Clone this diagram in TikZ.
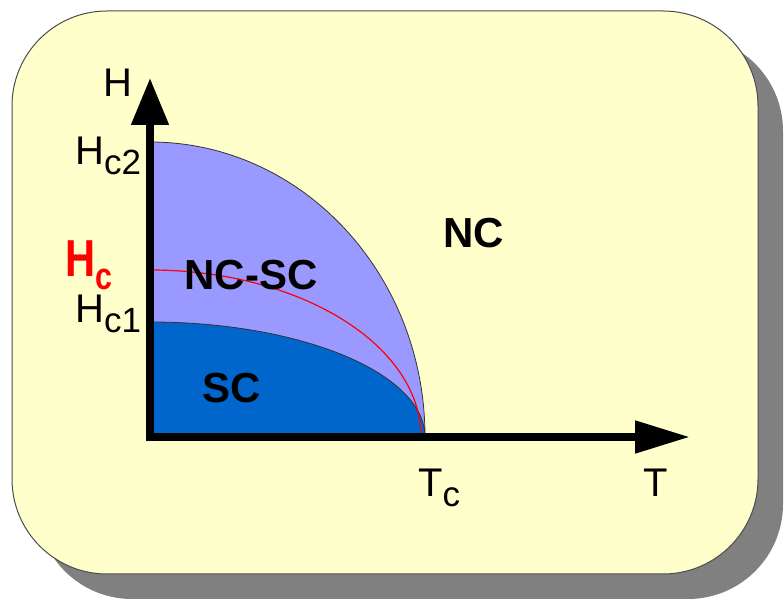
\documentclass[tikz,border=0pt]{standalone}
\usepackage{fontspec}
\setmainfont{Liberation Sans}
\usetikzlibrary{arrows.meta}
\definecolor{paper}{HTML}{FFFFCC}
\definecolor{shadowgray}{HTML}{808080}
\definecolor{ncsc}{HTML}{9999FF}
\definecolor{scblue}{HTML}{0066CC}
\definecolor{hcred}{HTML}{FF0000}
\newcommand{\lowsub}[1]{\raisebox{-10pt}{\fontsize{35}{36}\selectfont #1}}

\begin{document}
\begin{tikzpicture}[x=1pt,y=1pt,
  font=\fontsize{40}{44}\selectfont,
  lbl/.style={inner sep=0pt,anchor=base west},
  phase/.style={inner sep=0pt,font=\fontsize{42}{46}\selectfont\bfseries},
  edge/.style={draw=black!80,line width=0.8pt},
  axis/.style={line width=8pt,{Triangle[length=47pt,width=36pt]}-{Triangle[length=55pt,width=31pt]}}
]
\useasboundingbox (0,0) rectangle (784,599);
\fill[shadowgray,rounded corners=95pt] (37,0) rectangle (783,563);
\draw[draw=black!70,line width=1pt,fill=paper,rounded corners=95pt] (12,25) rectangle (758,588);
\coordinate (O) at (150,162);
\coordinate (Htop) at (150,521);
\coordinate (Tend) at (690,162);
\coordinate (Hc2) at (150,457);
\coordinate (Hc) at (150,329);
\coordinate (Hc1) at (150,277);
% phase regions
\fill[ncsc] (O) -- (Hc2) arc[start angle=90,end angle=0,x radius=275,y radius=295] -- cycle;
\draw[edge] (Hc2) arc[start angle=90,end angle=0,x radius=275,y radius=295];
\fill[scblue] (O) -- (Hc1) arc[start angle=90,end angle=0,x radius=275,y radius=115] -- cycle;
\draw[edge] (Hc1) arc[start angle=90,end angle=0,x radius=275,y radius=115];
\draw[hcred,line width=1.2pt] (Hc) arc[start angle=90,end angle=0,x radius=271,y radius=167];
% axes
\draw[axis] (Htop) -- (O) -- (Tend);
\node[lbl] (hlab) at (103,502) {H};
\node[lbl] (hc2lab) at (75,434) {H\lowsub{c2}};
\node[lbl,text=hcred] (hclab) at (65,322) {\scalebox{0.8}[1]{\fontsize{52}{56}\selectfont\bfseries H\raisebox{-13pt}{\fontsize{38}{40}\selectfont c}}};
\node[lbl] (hc1lab) at (75,276) {H\lowsub{c1}};
\node[lbl] (tclab) at (418,102) {T\lowsub{c}};
\node[lbl] (tlab) at (643,102) {T};
\node[phase] (ncsclab) at (251,324) {NC-SC};
\node[phase] (sclab) at (232,211) {SC};
\node[phase] (nclab) at (474,366) {NC};
\end{tikzpicture}
\end{document}
